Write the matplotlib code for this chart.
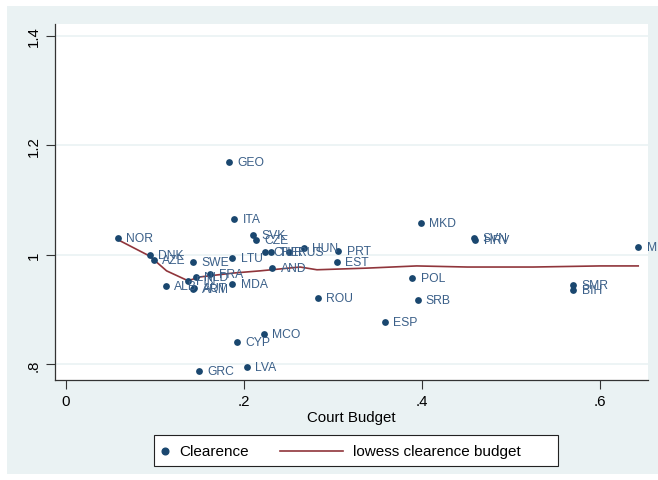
import matplotlib.pyplot as plt
from matplotlib.lines import Line2D
from matplotlib.patches import Rectangle

# Data
COUNTRIES = ["NOR", "GEO", "ITA", "DNK", "AZE", "ALB", "SWE", "FIN", "NLD", "AUT",
             "ARM", "FRA", "LTU", "MDA", "SVK", "CZE", "CHE", "TUR", "RUS", "HUN",
             "AND", "PRT", "EST", "ROU", "MKD", "SVN", "HRV", "POL", "SRB", "ESP",
             "SMR", "BIH", "MLT", "MCO", "CYP", "LVA", "GRC"]
COURT_BUDGET = [0.058, 0.183, 0.189, 0.094, 0.099, 0.112, 0.143, 0.137, 0.146, 0.144,
                0.143, 0.162, 0.187, 0.187, 0.210, 0.214, 0.224, 0.230, 0.251, 0.267,
                0.232, 0.306, 0.304, 0.283, 0.399, 0.458, 0.460, 0.389, 0.395, 0.358,
                0.570, 0.570, 0.643, 0.222, 0.192, 0.203, 0.149]
CLEARENCE = [1.031, 1.170, 1.066, 1.000, 0.990, 0.944, 0.987, 0.953, 0.960, 0.940,
             0.937, 0.965, 0.995, 0.947, 1.037, 1.028, 1.005, 1.005, 1.006, 1.013,
             0.977, 1.007, 0.987, 0.921, 1.058, 1.031, 1.027, 0.958, 0.918, 0.877,
             0.945, 0.936, 1.015, 0.856, 0.841, 0.796, 0.789]

LOWESS_X = [0.057, 0.094, 0.113, 0.137, 0.151, 0.188, 0.218, 0.263, 0.282,
            0.338, 0.394, 0.451, 0.525, 0.600, 0.643]
LOWESS_Y = [1.029, 0.998, 0.971, 0.953, 0.960, 0.967, 0.971, 0.978, 0.973,
            0.976, 0.980, 0.978, 0.978, 0.980, 0.980]

X_TICKS = [0, 0.2, 0.4, 0.6]
X_TICK_LABELS = ["0", ".2", ".4", ".6"]
Y_TICKS = [0.8, 1.0, 1.2, 1.4]
Y_TICK_LABELS = [".8", "1", "1.2", "1.4"]

NAVY = "#1a476f"
MAROON = "#90353b"
LABEL_BLUE = "#3a5f88"
BG = "#eaf2f3"

W, H = 658, 481

plt.rcParams["font.family"] = ["Liberation Sans", "DejaVu Sans"]


def px(x, y):
    # pixel coords (top-left origin) -> figure fraction
    return x / W, 1 - y / H


fig = plt.figure(figsize=(W / 100, H / 100), dpi=100)
fig.patch.set_facecolor("white")
fig.add_artist(Rectangle(px(7, 475), (W - 7) / W, 468 / H, transform=fig.transFigure,
                         facecolor=BG, edgecolor="none", zorder=0))

l, b = px(55, 380.7)
r, t = px(648, 25)
ax = fig.add_axes([l, b, r - l, t - b])
ax.set_facecolor("white")
ax.set_xlim(-0.0124, 0.654)
ax.set_ylim(0.7722, 1.4219)

for y in Y_TICKS:
    ax.axhline(y, color=BG, linewidth=1.2, zorder=1)

ax.scatter(COURT_BUDGET, CLEARENCE, s=24, color=NAVY, zorder=3, linewidths=0)
for name, x, y in zip(COUNTRIES, COURT_BUDGET, CLEARENCE):
    ax.annotate(name, (x, y), xytext=(6, 0), textcoords="offset points",
                ha="left", va="center", fontsize=8.7, color=LABEL_BLUE, zorder=4)
ax.plot(LOWESS_X, LOWESS_Y, color=MAROON, linewidth=1.2, zorder=2)

for side in ["top", "right"]:
    ax.spines[side].set_visible(False)
for side in ["left", "bottom"]:
    ax.spines[side].set_color("#333333")
    ax.spines[side].set_linewidth(0.9)

ax.set_xticks(X_TICKS, X_TICK_LABELS)
ax.set_yticks(Y_TICKS, Y_TICK_LABELS)
ax.tick_params(axis="both", length=6.5, width=0.8, color="#333333", labelsize=10.8)
ax.tick_params(axis="x", pad=4)
ax.tick_params(axis="y", pad=4)
for lab in ax.get_yticklabels():
    lab.set_rotation(90)
    lab.set_va("center")
ax.set_xlabel("Court Budget", fontsize=10.8, labelpad=1.5)

# legend box drawn in figure pixels, Stata style
fig.add_artist(Rectangle(px(154, 467), (558 - 154) / W, (467 - 436) / H,
                         transform=fig.transFigure, facecolor="white",
                         edgecolor="#222222", linewidth=0.8, zorder=5))
fig.add_artist(Line2D([px(165, 452)[0]], [px(165, 452)[1]], marker="o", markersize=4.8,
                      color=NAVY, linestyle="none", transform=fig.transFigure, zorder=6))
fig.text(*px(179, 452), "Clearence", fontsize=11, va="center", ha="left", zorder=6)
fig.add_artist(Line2D([px(280, 452)[0], px(343, 452)[0]], [px(280, 452)[1]] * 2,
                      color=MAROON, linewidth=1.2, transform=fig.transFigure, zorder=6))
fig.text(*px(353, 452), "lowess clearence budget", fontsize=11, va="center", ha="left", zorder=6)

fig.savefig("out.png", dpi=100)
plt.close(fig)
